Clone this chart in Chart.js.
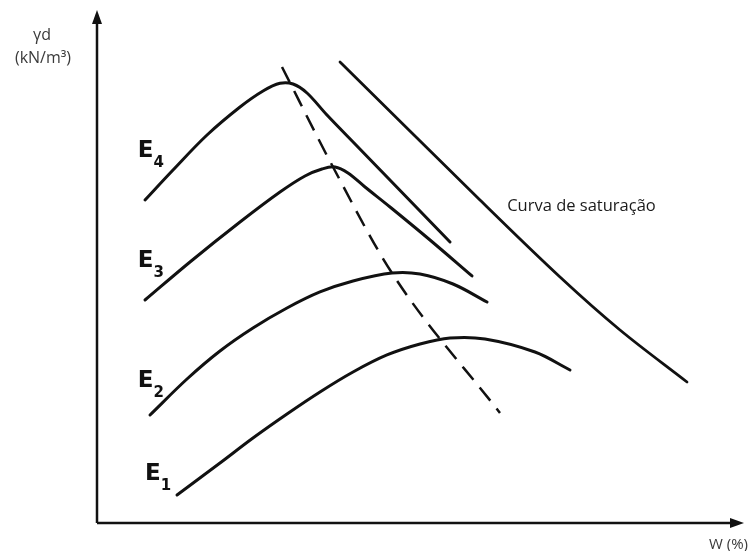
<!DOCTYPE html>
<html>
<head>
<meta charset="utf-8">
<script src="https://cdn.jsdelivr.net/npm/chart.js@4.4.1/dist/chart.umd.min.js"></script>
<style>
  html, body { margin: 0; padding: 0; background: #ffffff; }
  #wrap { width: 748px; height: 551px; }
</style>
</head>
<body>
<div id="wrap"><canvas id="c" width="748" height="551"></canvas></div>
<script>
// Compaction curves: dry unit weight (γd) against water content W (%),
// for four compaction energies E1..E4, the line of optimums and the saturation curve.
// Both axes are schematic (0-100 relative units).

const curveE4X = [7.41, 11.73, 16.98, 22.07, 25.62, 28.24, 30.25, 32.41, 35.49, 40.12, 54.48];
const curveE4Y = [63.21, 69.08, 75.93, 81.41, 84.54, 86.05, 85.91, 84.15, 79.84, 73.78, 54.99];

const curveE3X = [7.41, 14.35, 22.07, 28.24, 32.10, 34.72, 36.73, 38.73, 41.36, 45.22, 51.39, 57.87];
const curveE3Y = [43.64, 51.08, 58.90, 64.77, 67.91, 69.28, 69.67, 68.49, 65.75, 61.84, 55.38, 48.34];

const curveE2X = [8.18, 13.89, 18.98, 24.07, 29.32, 34.41, 39.51, 45.52, 49.85, 54.94, 60.19];
const curveE2Y = [21.14, 28.18, 33.66, 38.16, 42.07, 45.21, 47.36, 48.92, 48.73, 46.77, 43.25];

const curveE1X = [12.35, 18.98, 24.07, 29.32, 34.41, 39.51, 44.75, 49.85, 54.48, 59.88, 67.59, 72.99];
const curveE1Y = [5.48, 11.74, 16.63, 21.33, 25.64, 29.55, 32.88, 35.03, 36.20, 36.01, 33.46, 29.94];

const saturationX = [37.50, 59.10, 71.45, 80.71, 91.05];
const saturationY = [90.22, 63.21, 48.14, 37.77, 27.59];

// line through the optimum points (peaks) of the four curves
const optimumX = [28.55, 36.42, 45.52, 62.19];
const optimumY = [89.24, 69.67, 48.92, 21.53];

const energyNames = ['E', 'E', 'E', 'E'];
const energySubs = ['4', '3', '2', '1'];
const saturationLabel = 'Curva de saturação';
const yAxisTitle = ['γd', '(kN/m³)'];
const xAxisTitle = 'W (%)';

function pts(xs, ys) { return xs.map((x, i) => ({ x: x, y: ys[i] })); }

const INK = '#111111';

function curve(xs, ys, extra) {
  return Object.assign({
    data: pts(xs, ys),
    showLine: true,
    borderColor: INK,
    borderWidth: 3,
    pointRadius: 0,
    fill: false,
    tension: 0.35,
    borderCapStyle: 'round',
    borderJoinStyle: 'round'
  }, extra || {});
}

// label anchors in data units (baseline of the letter E)
const energyLabelAt = [
  { x: 6.3, y: 71.6 },
  { x: 6.3, y: 50.1 },
  { x: 6.3, y: 26.6 },
  { x: 7.4, y: 8.4 }
];
const saturationLabelAt = { x: 63.3, y: 61.1 };

const annotate = {
  id: 'annotate',
  afterDatasetsDraw(chart) {
    const { ctx, chartArea, scales } = chart;
    const xs = scales.x, ys = scales.y;
    const L = chartArea.left, B = chartArea.bottom, T = chartArea.top, R = chartArea.right;
    ctx.save();

    // axes with arrowheads
    ctx.strokeStyle = INK;
    ctx.fillStyle = INK;
    ctx.lineWidth = 2.5;
    ctx.lineCap = 'butt';
    ctx.beginPath();
    ctx.moveTo(L, B);
    ctx.lineTo(L, T + 8);
    ctx.moveTo(L, B);
    ctx.lineTo(R - 8, B);
    ctx.stroke();
    ctx.beginPath();
    ctx.moveTo(L, T - 2);
    ctx.lineTo(L - 5, T + 12);
    ctx.lineTo(L + 5, T + 12);
    ctx.closePath();
    ctx.fill();
    ctx.beginPath();
    ctx.moveTo(R - 1, B);
    ctx.lineTo(R - 15, B - 5);
    ctx.lineTo(R - 15, B + 5);
    ctx.closePath();
    ctx.fill();

    // energy labels E4..E1
    ctx.textAlign = 'left';
    ctx.textBaseline = 'alphabetic';
    energyLabelAt.forEach((p, i) => {
      const px = xs.getPixelForValue(p.x);
      const py = ys.getPixelForValue(p.y);
      ctx.font = 'bold 23px "DejaVu Sans"';
      ctx.fillText(energyNames[i], px, py);
      const w = ctx.measureText(energyNames[i]).width;
      ctx.font = 'bold 15px "DejaVu Sans"';
      ctx.fillText(energySubs[i], px + w, py + 10);
    });

    // saturation curve label
    ctx.fillStyle = '#1a1a1a';
    ctx.font = '16.5px "Open Sans"';
    ctx.fillText(saturationLabel,
      xs.getPixelForValue(saturationLabelAt.x),
      ys.getPixelForValue(saturationLabelAt.y));

    // axis titles
    ctx.fillStyle = '#3a3a3a';
    ctx.font = '16px "Open Sans"';
    ctx.textAlign = 'center';
    ctx.fillText(yAxisTitle[0], L - 55, T + 28);
    ctx.fillText(yAxisTitle[1], L - 54, T + 51);
    ctx.textAlign = 'right';
    ctx.font = '15px "Open Sans"';
    ctx.fillText(xAxisTitle, R + 3, B + 26);

    ctx.restore();
  }
};

new Chart(document.getElementById('c'), {
  type: 'scatter',
  data: {
    datasets: [
      curve(curveE4X, curveE4Y),
      curve(curveE3X, curveE3Y),
      curve(curveE2X, curveE2Y),
      curve(curveE1X, curveE1Y),
      curve(saturationX, saturationY, { borderWidth: 2.8 }),
      curve(optimumX, optimumY, { borderWidth: 2.5, borderDash: [17, 10], borderCapStyle: 'butt', tension: 0, cubicInterpolationMode: 'monotone' })
    ]
  },
  options: {
    responsive: false,
    animation: false,
    events: [],
    layout: { padding: { left: 97, right: 3, top: 12, bottom: 28 } },
    plugins: { legend: { display: false }, tooltip: { enabled: false } },
    scales: {
      x: { type: 'linear', min: 0, max: 100, display: false },
      y: { type: 'linear', min: 0, max: 100, display: false }
    }
  },
  plugins: [annotate]
});
</script>
</body>
</html>
